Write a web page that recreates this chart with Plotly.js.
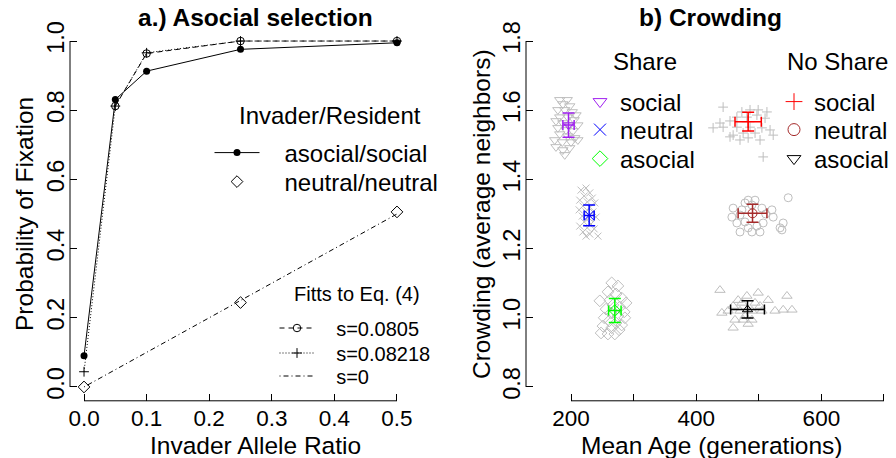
<!DOCTYPE html>
<html><head><meta charset="utf-8">
<script src="https://cdn.plot.ly/plotly-3.0.1.min.js"></script>
<style>html,body{margin:0;padding:0;background:#fff}#chart{width:896px;height:458px}</style>
</head><body><div id="chart"></div>
<script>
// ---------- Panel a data ----------
const ratio = [0, 0.05, 0.1, 0.25, 0.5];
const asocialSocial = [0.09, 0.831, 0.913, 0.976, 0.995];
const neutralRatio = [0, 0.25, 0.5];
const neutralNeutral = [0.0, 0.244, 0.506];
const fitCircleRatio = [0.05, 0.1, 0.25, 0.5];
const fitS0805 = [0.812, 0.964, 1.0, 1.0];
const fitS08218 = [0.044, 0.812, 0.966, 1.0, 1.0];
const fitS0 = [0, 0.05, 0.1, 0.25, 0.5];
const ratioTicks = [0, 0.1, 0.2, 0.3, 0.4, 0.5];
const probTicks = [0, 0.2, 0.4, 0.6, 0.8, 1.0];

// ---------- Panel b data ----------
const shareSocialAge = [182,194,187,198,179,190,202,208,182,195,205,176,187,198,211,179,192,203,182,195,206,174,186,200,211,176,187,198,190];
const shareSocialCrowd = [1.630,1.630,1.618,1.612,1.601,1.601,1.595,1.586,1.580,1.580,1.572,1.569,1.563,1.557,1.557,1.549,1.543,1.540,1.531,1.525,1.520,1.514,1.508,1.508,1.514,1.494,1.485,1.491,1.471];
const shareNeutralAge = [216,224,230,221,234,214,226,238,219,230,213,224,235,218,229,240,221,232,214,226,237,219,230,224,243];
const shareNeutralCrowd = [1.369,1.375,1.361,1.352,1.346,1.340,1.335,1.332,1.323,1.320,1.312,1.306,1.306,1.294,1.288,1.291,1.277,1.271,1.265,1.260,1.257,1.248,1.242,1.236,1.236];
const shareAsocialAge = [265,275,259,272,281,246,262,288,267,278,256,285,264,275,253,286,261,272,281,251,265,277,248,259,270];
const shareAsocialCrowd = [1.101,1.092,1.075,1.069,1.057,1.049,1.051,1.043,1.037,1.031,1.025,1.017,1.014,1.005,1.000,1.000,0.991,0.985,0.979,0.976,0.971,0.965,0.956,0.953,0.953];
const noShareSocialAge = [443,473,486,499,513,465,481,497,510,438,454,427,443,465,486,505,459,475,494,518,454,523,483,502,470,507];
const noShareSocialCrowd = [1.609,1.595,1.601,1.601,1.595,1.580,1.580,1.586,1.577,1.563,1.569,1.549,1.551,1.551,1.551,1.549,1.528,1.534,1.534,1.543,1.523,1.528,1.520,1.514,1.514,1.465];
const noShareNeutralAge = [483,494,478,547,459,473,489,505,521,457,470,523,465,478,507,539,534,470,483,489,502,497,537,511];
const noShareNeutralCrowd = [1.340,1.340,1.332,1.347,1.317,1.312,1.326,1.317,1.312,1.291,1.297,1.291,1.274,1.277,1.274,1.274,1.260,1.248,1.260,1.248,1.248,1.265,1.254,1.300];
const noShareAsocialAge = [438,481,499,515,545,459,473,494,441,451,470,489,505,526,539,553,462,475,489,459,467,478,502,483];
const noShareAsocialCrowd = [1.080,1.063,1.072,1.051,1.063,1.034,1.043,1.043,1.014,1.020,1.020,1.020,1.020,1.020,1.023,1.023,0.994,0.994,0.994,0.971,1.051,1.005,1.034,0.982];

const shareMeanAge = [196, 229, 270];
const shareMeanCrowd = [1.557, 1.296, 1.021];
const shareAgeErr = [9, 8, 10];
const shareCrowdErr = [0.035, 0.030, 0.035];
const noShareMeanAge = [483, 490, 482];
const noShareMeanCrowd = [1.567, 1.302, 1.024];
const noShareAgeErr = [21, 23, 27];
const noShareCrowdErr = [0.027, 0.026, 0.025];
const groupNames = ['social', 'neutral', 'asocial'];

const ageTicks = [200, 300, 400, 500, 600, 700];
const ageTickText = ['200', '', '400', '', '600', ''];
const crowdTicks = [0.8, 1.0, 1.2, 1.4, 1.6, 1.8];

// ---------- helpers / styles ----------
const FONT = 'Liberation Sans, Arial, Helvetica, sans-serif';
const W = 896, H = 458;
const PX = v => v / W;
const PY = v => 1 - v / H;
const GRAY = '#BEBEBE';
const NB3 = '\u00A0\u00A0\u00A0';

const traces = [];

// Panel a
traces.push({x: fitS0, y: fitS0, mode: 'lines', name: NB3 + 's=0', xaxis: 'x', yaxis: 'y',
  line: {color: '#000', width: 1, dash: '1px,3px,5px,3px'}, legend: 'legend5'});
traces.push({x: ratio, y: fitS08218, mode: 'lines+markers', name: NB3 + 's=0.08218', xaxis: 'x', yaxis: 'y',
  line: {color: '#000', width: 1, dash: '1px,2px'},
  marker: {symbol: 'cross-thin-open', size: 7, color: '#000', line: {color: '#000', width: 1}}, legend: 'legend4'});
traces.push({x: fitCircleRatio, y: fitS0805, mode: 'lines+markers', name: NB3 + 's=0.0805', xaxis: 'x', yaxis: 'y',
  line: {color: '#000', width: 1, dash: '5px,4px'},
  marker: {symbol: 'circle-open', size: 7.5, color: '#000', line: {color: '#000', width: 1}}, legend: 'legend3'});
traces.push({x: ratio, y: asocialSocial, mode: 'lines+markers', name: NB3 + 'asocial/social', xaxis: 'x', yaxis: 'y',
  line: {color: '#000', width: 1}, marker: {symbol: 'circle', size: 7, color: '#000'}, legend: 'legend'});
traces.push({x: neutralRatio, y: neutralNeutral, mode: 'markers', name: NB3 + 'neutral/neutral', xaxis: 'x', yaxis: 'y',
  marker: {symbol: 'diamond-open', size: 9, color: '#000', line: {color: '#000', width: 1}}, legend: 'legend2'});

// Panel b clusters
const clusters = [
  [shareSocialAge, shareSocialCrowd, 'triangle-down-open', 9],
  [shareNeutralAge, shareNeutralCrowd, 'x-thin-open', 7],
  [shareAsocialAge, shareAsocialCrowd, 'diamond-open', 9],
  [noShareSocialAge, noShareSocialCrowd, 'cross-thin-open', 7],
  [noShareNeutralAge, noShareNeutralCrowd, 'circle-open', 8],
  [noShareAsocialAge, noShareAsocialCrowd, 'triangle-up-open', 9]
];
clusters.forEach(c => traces.push({x: c[0], y: c[1], mode: 'markers', xaxis: 'x2', yaxis: 'y2', showlegend: false,
  marker: {symbol: c[2], size: c[3], color: GRAY, line: {color: GRAY, width: 1}}}));

// Panel b means with error bars
const shareColors = ['#A020F0', '#0000FF', '#00FF00'];
const noShareColors = ['#FF0000', '#A52A2A', '#000000'];
const shareSymbols = ['triangle-down-open', 'x-thin-open', 'diamond-open'];
const noShareSymbols = ['cross-thin-open', 'circle-open', 'triangle-up-open'];
const noShareLegendSymbols = ['cross-thin-open', 'circle-open', 'triangle-down-open'];
function addMean(age, crowd, aErr, cErr, col, sym) {
  traces.push({x: [age], y: [crowd], mode: 'markers', xaxis: 'x2', yaxis: 'y2', showlegend: false,
    marker: {symbol: sym, size: 9, color: col, line: {color: col, width: 1}},
    error_x: {type: 'data', array: [aErr], color: col, thickness: 1.5, width: 5},
    error_y: {type: 'data', array: [cErr], color: col, thickness: 1.5, width: 6}});
}
for (let i = 0; i < 3; i++) {
  addMean(shareMeanAge[i], shareMeanCrowd[i], shareAgeErr[i], shareCrowdErr[i], shareColors[i], shareSymbols[i]);
  addMean(noShareMeanAge[i], noShareMeanCrowd[i], noShareAgeErr[i], noShareCrowdErr[i], noShareColors[i], noShareSymbols[i]);
}
// legend-only entries for panel b
for (let i = 0; i < 3; i++) {
  traces.push({x: [null], y: [null], mode: 'markers', name: groupNames[i], xaxis: 'x2', yaxis: 'y2',
    legend: 'legend' + (6 + i),
    marker: {symbol: shareSymbols[i], size: 12, color: shareColors[i], line: {color: shareColors[i], width: 1}}});
  traces.push({x: [null], y: [null], mode: 'markers', name: groupNames[i], xaxis: 'x2', yaxis: 'y2',
    legend: 'legend' + (9 + i),
    marker: {symbol: noShareLegendSymbols[i], size: 12, color: noShareColors[i], line: {color: noShareColors[i], width: 1}}});
}

function legendAt(symX, rowY, size, iw) {
  const w = iw || 30;
  return {x: PX(symX - (w + 10) / 2), y: PY(rowY), xanchor: 'left', yanchor: 'middle', bgcolor: 'rgba(0,0,0,0)',
    borderwidth: 0, font: {family: FONT, size: size, color: '#000'}, itemwidth: w,
    itemclick: false, itemdoubleclick: false};
}

const xTickFont = {family: FONT, size: 22.5, color: '#000'};
const yTickFont = {family: FONT, size: 23.5, color: '#000'};
const axisCommon = {ticks: 'inside', ticklen: 7, tickwidth: 1, tickcolor: '#000', showgrid: false,
  zeroline: false, showline: false, fixedrange: true};
const yDomain = [PY(400.8), PY(27.2)];

const layout = {
  width: W, height: H, margin: {l: 0, r: 0, t: 0, b: 0}, paper_bgcolor: '#fff', plot_bgcolor: '#fff',
  font: {family: FONT, color: '#000'},
  xaxis: Object.assign({}, axisCommon, {domain: [PX(70), PX(442)], range: [-0.0224, 0.5719], anchor: 'y',
    tickvals: ratioTicks, ticktext: ratioTicks.map(v => v.toFixed(1)), ticklabelstandoff: 2, tickfont: xTickFont}),
  yaxis: Object.assign({}, axisCommon, {domain: yDomain, range: [-0.04, 1.04], anchor: 'x', tickangle: -90,
    tickvals: probTicks, ticktext: probTicks.map(v => v.toFixed(1)), tickfont: yTickFont}),
  xaxis2: Object.assign({}, axisCommon, {domain: [PX(526), 1], range: [128.1, 719.2], anchor: 'y2',
    tickvals: ageTicks, ticktext: ageTickText, ticklabelstandoff: 2, tickfont: xTickFont}),
  yaxis2: Object.assign({}, axisCommon, {domain: yDomain, range: [0.76, 1.84], anchor: 'x2', tickangle: -90,
    tickvals: crowdTicks, ticktext: crowdTicks.map(v => v.toFixed(1)), tickfont: yTickFont}),
  shapes: [
    {type: 'line', xref: 'x', yref: 'y domain', x0: ratioTicks[0], x1: ratioTicks[ratioTicks.length - 1], y0: 0, y1: 0, line: {color: '#000', width: 1}},
    {type: 'line', xref: 'x domain', yref: 'y', x0: 0, x1: 0, y0: probTicks[0], y1: probTicks[probTicks.length - 1], line: {color: '#000', width: 1}},
    {type: 'line', xref: 'x2', yref: 'y2 domain', x0: ageTicks[0], x1: ageTicks[ageTicks.length - 1], y0: 0, y1: 0, line: {color: '#000', width: 1}},
    {type: 'line', xref: 'x2 domain', yref: 'y2', x0: 0, x1: 0, y0: crowdTicks[0], y1: crowdTicks[crowdTicks.length - 1], line: {color: '#000', width: 1}}
  ],
  annotations: [
    {text: '<b>a.) Asocial selection</b>', x: PX(255), y: PY(17), font: {size: 24.5}},
    {text: '<b>b) Crowding</b>', x: PX(710), y: PY(17), font: {size: 24.5}},
    {text: 'Invader Allele Ratio', x: PX(255), y: PY(445), font: {size: 24.5}},
    {text: 'Mean Age (generations)', x: PX(712), y: PY(445), font: {size: 24.5}},
    {text: 'Probability of Fixation', x: PX(24), y: PY(214), textangle: -90, font: {size: 24.5}},
    {text: 'Crowding (average neighbors)', x: PX(481), y: PY(214), textangle: -90, font: {size: 24.5}},
    {text: 'Invader/Resident', x: PX(237), y: PY(116), xanchor: 'left', font: {size: 24}},
    {text: 'Fitts to Eq. (4)', x: PX(292), y: PY(294), xanchor: 'left', font: {size: 20}},
    {text: 'Share', x: PX(645), y: PY(62), font: {size: 24}},
    {text: 'No Share', x: PX(837), y: PY(62), font: {size: 24}}
  ].map(a => Object.assign({xref: 'paper', yref: 'paper', showarrow: false, xanchor: 'center', yanchor: 'middle'}, a,
    {font: {family: FONT, color: '#000', size: a.font.size}})),
  legend: legendAt(237, 153, 24, 45),
  legend2: legendAt(237, 182, 24, 45),
  legend3: legendAt(297, 328, 20, 35),
  legend4: legendAt(297, 353, 20, 35),
  legend5: legendAt(297, 376, 20, 35),
  legend6: legendAt(600, 102, 24),
  legend7: legendAt(600, 130, 24),
  legend8: legendAt(600, 159, 24),
  legend9: legendAt(794, 102, 24),
  legend10: legendAt(794, 130, 24),
  legend11: legendAt(794, 159, 24),
  showlegend: true
};

Plotly.newPlot('chart', traces, layout, {staticPlot: true, displayModeBar: false});
</script></body></html>
